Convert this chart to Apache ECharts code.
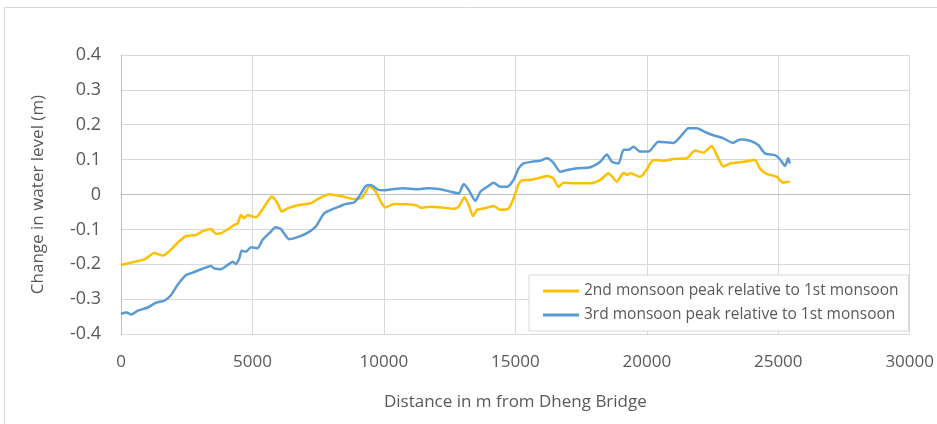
<!DOCTYPE html>
<html>
<head>
<meta charset="utf-8">
<script src="https://cdn.jsdelivr.net/npm/echarts@6/dist/echarts.min.js"></script>
<style>
  html, body { margin: 0; padding: 0; background: #fff; }
  #chart { width: 937px; height: 424px; }
</style>
</head>
<body>
<div id="chart"></div>
<script>
// distance (m) and change in water level (m)
const dist2 = [0, 400, 892, 1272, 1588, 1850, 2157, 2475, 2855, 3106, 3424, 3614, 3804, 4120, 4310, 4436, 4563, 4690, 4815, 4950, 5133, 5449, 5740, 5953, 6120, 6332, 6776, 7220, 7536, 7915, 8231, 8550, 8930, 9180, 9460, 9688, 9916, 10068, 10380, 10885, 11265, 11393, 11773, 12278, 12657, 12847, 13062, 13226, 13390, 13542, 13795, 14175, 14428, 14744, 14934, 15124, 15250, 15570, 15820, 16200, 16450, 16640, 16830, 17210, 17850, 18230, 18545, 18860, 19115, 19240, 19370, 19750, 19940, 20255, 20635, 21015, 21520, 21837, 22153, 22470, 22660, 22915, 23165, 23670, 24115, 24300, 24555, 24935, 25190, 25440];
const level2 = [-0.202, -0.195, -0.186, -0.168, -0.175, -0.162, -0.138, -0.119, -0.116, -0.105, -0.099, -0.113, -0.111, -0.097, -0.087, -0.083, -0.059, -0.068, -0.059, -0.062, -0.065, -0.035, -0.006, -0.025, -0.049, -0.040, -0.030, -0.025, -0.011, 0.001, -0.003, -0.008, -0.014, -0.008, 0.024, 0.008, -0.025, -0.037, -0.027, -0.028, -0.032, -0.038, -0.035, -0.038, -0.041, -0.035, -0.008, -0.030, -0.062, -0.044, -0.040, -0.033, -0.044, -0.040, -0.011, 0.030, 0.040, 0.042, 0.046, 0.053, 0.046, 0.022, 0.034, 0.032, 0.032, 0.042, 0.061, 0.037, 0.062, 0.056, 0.061, 0.051, 0.065, 0.099, 0.097, 0.102, 0.104, 0.126, 0.120, 0.139, 0.113, 0.080, 0.089, 0.094, 0.099, 0.075, 0.059, 0.051, 0.034, 0.037];

const dist3 = [0, 200, 387, 640, 1020, 1336, 1652, 1906, 2157, 2475, 2726, 3106, 3424, 3550, 3804, 4120, 4245, 4373, 4500, 4587, 4753, 4943, 5195, 5385, 5638, 5890, 6080, 6396, 6776, 7156, 7410, 7726, 8041, 8295, 8550, 8865, 9055, 9308, 9498, 9750, 9940, 10380, 10760, 11265, 11645, 12152, 12532, 12847, 13037, 13226, 13480, 13670, 13925, 14175, 14428, 14685, 14934, 15124, 15314, 15630, 15950, 16200, 16450, 16710, 16960, 17340, 17850, 18230, 18480, 18670, 18925, 19115, 19305, 19495, 19750, 20065, 20445, 21015, 21330, 21583, 21900, 22280, 22533, 22915, 23270, 23545, 23925, 24240, 24495, 24875, 25065, 25255, 25380, 25440];
const level3 = [-0.342, -0.338, -0.344, -0.333, -0.324, -0.310, -0.304, -0.288, -0.259, -0.231, -0.224, -0.213, -0.205, -0.212, -0.214, -0.199, -0.193, -0.199, -0.183, -0.161, -0.164, -0.151, -0.154, -0.130, -0.111, -0.094, -0.099, -0.128, -0.121, -0.107, -0.092, -0.054, -0.042, -0.035, -0.027, -0.023, -0.006, 0.024, 0.027, 0.015, 0.012, 0.016, 0.018, 0.015, 0.018, 0.015, 0.008, 0.003, 0.030, 0.013, -0.018, 0.008, 0.022, 0.034, 0.022, 0.022, 0.042, 0.075, 0.089, 0.094, 0.097, 0.104, 0.091, 0.065, 0.070, 0.075, 0.078, 0.094, 0.115, 0.094, 0.089, 0.128, 0.128, 0.137, 0.123, 0.123, 0.151, 0.148, 0.170, 0.190, 0.190, 0.177, 0.170, 0.161, 0.148, 0.158, 0.154, 0.142, 0.118, 0.113, 0.101, 0.082, 0.104, 0.089];

const seriesNames = ['2nd monsoon peak relative to 1st monsoon', '3rd monsoon peak relative to 1st monsoon'];

const pairs = (xs, ys) => xs.map((x, i) => [x, ys[i]]);

var myChart = echarts.init(document.getElementById('chart'));

myChart.setOption({
  animation: false,
  textStyle: { fontFamily: 'Open Sans' },
  graphic: [{
    type: 'rect',
    shape: { x: 4.5, y: 7.5, width: 1000, height: 500 },
    style: { fill: 'none', stroke: '#D9D9D9', lineWidth: 1 },
    silent: true
  }],
  grid: { left: 121, right: 25, top: 55, bottom: 90 },
  xAxis: {
    type: 'value',
    min: 0, max: 30000, interval: 5000,
    name: 'Distance in m from Dheng Bridge',
    nameLocation: 'middle',
    nameGap: 60,
    nameTextStyle: { fontSize: 17, color: '#595959' },
    axisLine: { show: true, lineStyle: { color: '#BFBFBF' } },
    axisTick: { show: false },
    axisLabel: { fontSize: 17, color: '#595959', margin: 20, formatter: v => String(v) },
    splitLine: { show: true, lineStyle: { color: '#D9D9D9' } }
  },
  yAxis: {
    type: 'value',
    min: -0.4, max: 0.4, interval: 0.1,
    name: 'Change in water level (m)',
    nameLocation: 'middle',
    nameGap: 74,
    nameTextStyle: { fontSize: 17, color: '#595959' },
    axisLine: { show: true, lineStyle: { color: '#BFBFBF' } },
    axisTick: { show: false },
    axisLabel: { fontSize: 18, color: '#595959', margin: 20 },
    splitLine: { show: true, lineStyle: { color: '#D9D9D9' } }
  },
  legend: {
    orient: 'vertical',
    left: 529, top: 275,
    padding: [8, 10, 8, 14],
    itemGap: 8,
    itemWidth: 36, itemHeight: 3,
    backgroundColor: '#fff',
    borderColor: '#D9D9D9', borderWidth: 1,
    textStyle: { fontSize: 15.5, color: '#595959' },
    data: seriesNames.map(n => ({ name: n, icon: 'rect' }))
  },
  series: [
    {
      name: seriesNames[0], type: 'line', showSymbol: false, smooth: 0.2,
      lineStyle: { width: 2.5, color: '#FFC000' }, itemStyle: { color: '#FFC000' },
      data: pairs(dist2, level2)
    },
    {
      name: seriesNames[1], type: 'line', showSymbol: false, smooth: 0.2,
      lineStyle: { width: 2.5, color: '#5B9BD5' }, itemStyle: { color: '#5B9BD5' },
      data: pairs(dist3, level3)
    }
  ]
});
</script>
</body>
</html>
